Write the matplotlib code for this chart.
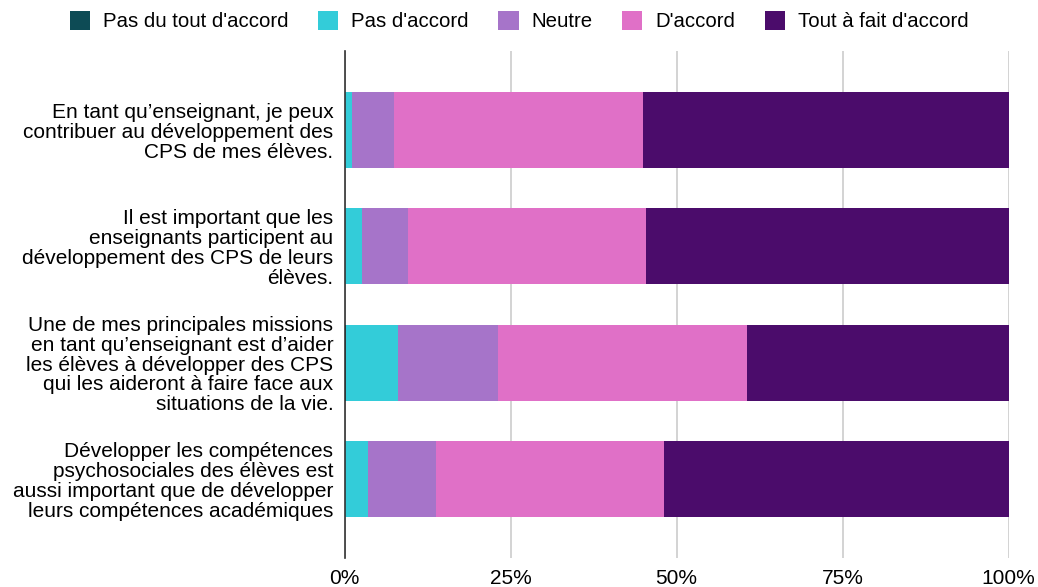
import matplotlib.pyplot as plt
import numpy as np

plt.rcParams['font.family'] = ['Liberation Sans', 'DejaVu Sans']

# donnees (pourcentages)
questions = [
    "En tant qu\u2019enseignant, je peux\ncontribuer au d\u00e9veloppement des\nCPS de mes \u00e9l\u00e8ves.",
    "Il est important que les\nenseignants participent au\nd\u00e9veloppement des CPS de leurs\n\u00e9l\u00e8ves.",
    "Une de mes principales missions\nen tant qu\u2019enseignant est d\u2019aider\nles \u00e9l\u00e8ves \u00e0 d\u00e9velopper des CPS\nqui les aideront \u00e0 faire face aux\nsituations de la vie.",
    "D\u00e9velopper les comp\u00e9tences\npsychosociales des \u00e9l\u00e8ves est\naussi important que de d\u00e9velopper\nleurs comp\u00e9tences acad\u00e9miques",
]
niveaux = ["Pas du tout d'accord", "Pas d'accord", "Neutre", "D'accord", "Tout \u00e0 fait d'accord"]
pas_du_tout = [0.0, 0.0, 0.3, 0.0]
pas_accord = [1.2, 2.7, 7.7, 3.6]
neutre = [6.2, 6.9, 15.1, 10.2]
accord = [37.5, 35.8, 37.5, 34.3]
tout_a_fait = [55.1, 54.6, 39.4, 51.9]
couleurs = ["#0d4b55", "#33ccd9", "#a674c9", "#e070c7", "#4b0c6b"]

series = [pas_du_tout, pas_accord, neutre, accord, tout_a_fait]

fig = plt.figure(figsize=(10.38, 5.87), dpi=100)
ax = fig.add_axes([344.5 / 1038, 29 / 587, 664 / 1038, 507 / 587])

y = np.arange(len(questions))
gauche = np.zeros(len(questions))
for vals, nom, c in zip(series, niveaux, couleurs):
    vals = np.array(vals)
    ax.barh(y, vals, left=gauche, height=0.655, color=c, label=nom, zorder=3)
    gauche += vals

ax.set_ylim(3.68, -0.68)
ax.set_xlim(0, 100)
ax.set_yticks(y)
ax.set_yticklabels(questions, fontsize=15, linespacing=1.06)
ax.set_xticks([0, 25, 50, 75, 100])
ax.set_xticklabels(["0%", "25%", "50%", "75%", "100%"], fontsize=15)
ax.tick_params(axis='both', length=0)
ax.tick_params(axis='y', pad=8)
ax.tick_params(axis='x', pad=8)
ax.grid(axis='x', color='#cccccc', linewidth=1.2, zorder=0)
for s in ['top', 'right', 'bottom']:
    ax.spines[s].set_visible(False)
ax.spines['left'].set_color('#333333')
ax.spines['left'].set_linewidth(1.2)
ax.spines['left'].set_zorder(4)

fig.legend(loc='upper center', bbox_to_anchor=(0.5, 1.012), ncol=5, frameon=False,
           fontsize=14.7, handlelength=1.0, handleheight=1.0, columnspacing=1.45,
           handletextpad=0.62)

plt.savefig("out.png", dpi=100)
